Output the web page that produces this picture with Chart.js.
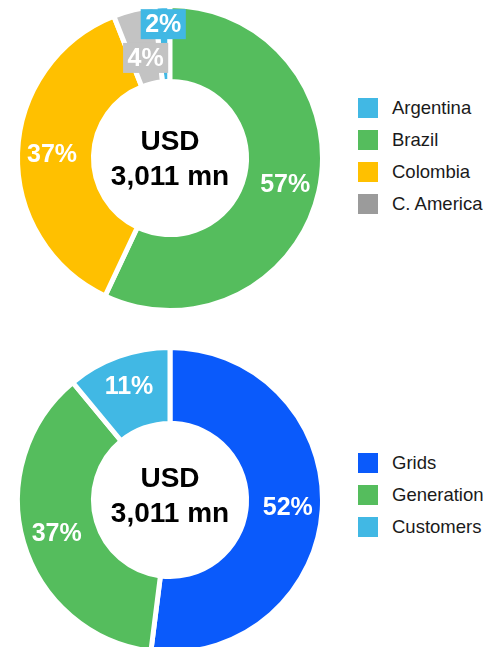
<!DOCTYPE html>
<html>
<head>
<meta charset="utf-8">
<title>Revenue split</title>
<script src="https://cdn.jsdelivr.net/npm/chart.js@4.4.0/dist/chart.umd.min.js"></script>
<style>
    body {
        margin: 0;
        width: 483px;
        height: 647px;
        overflow: hidden;
        position: relative;
        background: #fff;
        font-family: "Liberation Sans", Arial, sans-serif;
    }
    canvas { position: absolute; left: 0; }
    #regionChart { top: 0; }
    #businessChart { top: 325px; }
    .legend {
        position: absolute;
        left: 358px;
        margin: 0;
        padding: 0;
        list-style: none;
        font-size: 18.5px;
        color: #1a1a1a;
    }
    .legend li { height: 32px; display: flex; align-items: center; white-space: nowrap; }
    .legend .box { width: 20px; height: 20px; margin-right: 14px; flex: none; }
    #regionLegend { top: 92px; }
    #businessLegend { top: 447px; }
</style>
</head>
<body>

<canvas id="regionChart" width="340" height="316"></canvas>
<ul class="legend" id="regionLegend"></ul>

<canvas id="businessChart" width="340" height="350"></canvas>
<ul class="legend" id="businessLegend"></ul>

<script>
// data
var regionLabels = ['Argentina', 'Brazil', 'Colombia', 'C. America'];
var regionValues = [1.6, 57, 37, 4.4];

var businessLabels = ['Grids', 'Generation', 'Customers'];
var businessValues = [52, 37, 11];

var centerLines = ['USD', '3,011 mn'];

var regionColors = ['#41b8e4', '#55bd5d', '#ffc000', '#c3c3c3'];
var regionLegendColors = ['#41b8e4', '#55bd5d', '#ffc000', '#9b9b9b'];
var businessColors = ['#0a5afb', '#55bd5d', '#41b8e4'];

var FONT = '"Liberation Sans", Arial, sans-serif';

function sum(arr) {
    return arr.reduce(function(a, b) { return a + b; }, 0);
}

/* percent labels on the ring + the text in the hole */
var ringText = {
    id: 'ringText',
    afterDatasetsDraw: function(chart, args, opts) {
        var ctx = chart.ctx;
        var meta = chart.getDatasetMeta(0);
        var ds = chart.data.datasets[0];
        var total = sum(ds.data);

        ctx.save();
        ctx.textAlign = 'center';
        ctx.textBaseline = 'middle';
        ctx.font = 'bold 25px ' + FONT;

        meta.data.forEach(function(arc, i) {
            var p = arc.getProps(['x', 'y', 'startAngle', 'endAngle']);
            var mid = (p.startAngle + p.endAngle) / 2;
            var r = opts.labelRadius + (opts.shift ? (opts.shift[i] || 0) : 0);
            var x = p.x + Math.cos(mid) * r;
            var y = p.y + Math.sin(mid) * r;
            var share = ds.data[i] / total;
            var text = Math.round(share * 100) + '%';

            if (share < 0.05) {
                // small slices get a box in their own colour
                var w = ctx.measureText(text).width + 9;
                ctx.fillStyle = ds.backgroundColor[i];
                ctx.fillRect(x - w / 2, y - 15, w, 30);
            }
            ctx.fillStyle = '#fff';
            ctx.fillText(text, x, y + 1);
        });

        var c = meta.data[0];
        ctx.fillStyle = '#000';
        ctx.font = 'bold 28px ' + FONT;
        var cy = c.y + opts.centerOffset;
        ctx.fillText(centerLines[0], c.x, cy - 17.5);
        ctx.fillText(centerLines[1], c.x, cy + 17.5);
        ctx.restore();
    }
};

function makeDoughnut(canvasId, labels, values, colors, rotation, textOpts) {
    return new Chart(document.getElementById(canvasId), {
        type: 'doughnut',
        data: {
            labels: labels,
            datasets: [{
                data: values,
                backgroundColor: colors,
                borderColor: '#fff',
                borderWidth: 5
            }]
        },
        options: {
            responsive: false,
            animation: false,
            radius: 152.5,
            cutout: '50.2%',
            rotation: rotation,
            layout: { padding: 0 },
            plugins: {
                legend: { display: false },
                tooltip: { enabled: false },
                ringText: textOpts
            }
        },
        plugins: [ringText]
    });
}

function buildLegend(listId, labels, colors) {
    var ul = document.getElementById(listId);
    labels.forEach(function(label, i) {
        var li = document.createElement('li');
        var box = document.createElement('span');
        box.className = 'box';
        box.style.background = colors[i];
        li.appendChild(box);
        li.appendChild(document.createTextNode(label));
        ul.appendChild(li);
    });
}

// Argentina ends right at 12 o'clock, Brazil starts there
var regionRotation = -regionValues[0] / sum(regionValues) * 360;

var regionChart = makeDoughnut('regionChart', regionLabels, regionValues, regionColors, regionRotation, {
    labelRadius: 118,
    shift: [16, 0, 0, -15],
    centerOffset: 1.5
});
var businessChart = makeDoughnut('businessChart', businessLabels, businessValues, businessColors, 0, {
    labelRadius: 118,
    shift: [0, 0, 3],
    centerOffset: -3.5
});

buildLegend('regionLegend', regionLabels, regionLegendColors);
buildLegend('businessLegend', businessLabels, businessColors);
</script>
</body>
</html>
